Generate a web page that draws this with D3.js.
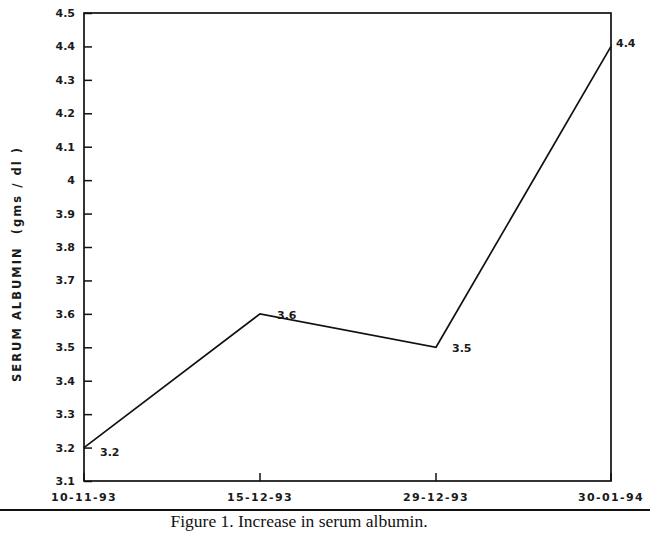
<!DOCTYPE html>
<html>
<head>
<meta charset="utf-8">
<script src="https://cdn.jsdelivr.net/npm/d3@7"></script>
<style>
  body { margin: 0; background: #fff; }
  svg { display: block; }
</style>
</head>
<body>
<div id="chart"></div>
<script>
// chart values
const dates = ['10-11-93', '15-12-93', '29-12-93', '30-01-94']
const albumin = [3.2, 3.6, 3.5, 4.4]
const yTicks = [3.1, 3.2, 3.3, 3.4, 3.5, 3.6, 3.7, 3.8, 3.9, 4, 4.1, 4.2, 4.3, 4.4, 4.5]
const yTitle = 'SERUM ALBUMIN  (gms / dl )'
const caption = 'Figure 1. Increase in serum albumin.'

const dimensions = {
  width: 650,
  height: 542,
  margin: { top: 13, right: 39, bottom: 61, left: 84 }
}
const innerW = dimensions.width - dimensions.margin.left - dimensions.margin.right
const innerH = dimensions.height - dimensions.margin.top - dimensions.margin.bottom

const svg = d3.select('#chart').append('svg')
  .attr('width', dimensions.width)
  .attr('height', dimensions.height)

const bounds = svg.append('g')
  .attr('transform', `translate(${dimensions.margin.left}, ${dimensions.margin.top})`)

// the dates are not evenly spaced in the original plot
const x = d3.scaleOrdinal().domain(dates).range([0, 176, 352, innerW])
const y = d3.scaleLinear().domain([3.1, 4.5]).range([innerH, 0])

const font = 'DejaVu Sans, Verdana, sans-serif'

// frame
bounds.append('rect')
  .attr('width', innerW).attr('height', innerH)
  .attr('fill', 'none')
  .attr('stroke', '#111')
  .attr('stroke-width', 1.7)

// y axis, ticks pointing inward
const yAxis = d3.axisLeft(y).tickValues(yTicks).tickSize(-8).tickPadding(9)
  .tickFormat(d => String(+d.toFixed(1)))
bounds.append('g').call(yAxis)
  .call(g => g.select('.domain').remove())
  .call(g => g.selectAll('line').attr('stroke', '#111').attr('stroke-width', 1.5))
  .call(g => g.selectAll('text')
    .attr('font-family', font).attr('font-size', 11).attr('font-weight', 'bold')
    .attr('fill', '#1a1a1a'))

// x axis, ticks pointing up
const xAxis = d3.axisBottom(x).tickSize(-8).tickPadding(12)
bounds.append('g')
  .attr('transform', `translate(0, ${innerH})`)
  .call(xAxis)
  .call(g => g.select('.domain').remove())
  .call(g => g.selectAll('.tick').attr('transform', d => `translate(${x(d)}, 0)`))
  .call(g => g.selectAll('line').attr('stroke', '#111').attr('stroke-width', 1.5))
  .call(g => g.selectAll('text')
    .attr('font-family', font).attr('font-size', 11).attr('font-weight', 'bold')
    .attr('letter-spacing', 1.4)
    .attr('fill', '#1a1a1a'))

// line
const line = d3.line()
  .x((d, i) => x(dates[i]))
  .y(d => y(d))
bounds.append('path')
  .datum(albumin)
  .attr('d', line)
  .attr('fill', 'none')
  .attr('stroke', '#111')
  .attr('stroke-width', 1.7)

// point labels
const labelOffsets = [[16, 8], [17, 5], [16, 5], [5, 1]]
bounds.selectAll('text.val')
  .data(albumin)
  .join('text')
  .attr('class', 'val')
  .attr('x', (d, i) => x(dates[i]) + labelOffsets[i][0])
  .attr('y', (d, i) => y(d) + labelOffsets[i][1])
  .text(d => d.toFixed(1))
  .attr('font-family', font)
  .attr('font-size', 11)
  .attr('font-weight', 'bold')
  .attr('fill', '#1a1a1a')

// y axis title
svg.append('text')
  .attr('transform', 'translate(21, 265) rotate(-90)')
  .attr('text-anchor', 'middle')
  .attr('font-family', font)
  .attr('font-size', 11.5)
  .attr('font-weight', 'bold')
  .attr('fill', '#1a1a1a')
  .attr('textLength', 234)
  .attr('lengthAdjust', 'spacing')
  .style('white-space', 'pre')
  .text(yTitle)

// rule under the chart
svg.append('line')
  .attr('x1', 0).attr('x2', dimensions.width)
  .attr('y1', 510).attr('y2', 510)
  .attr('stroke', '#111')
  .attr('stroke-width', 2)

// caption
svg.append('text')
  .attr('x', 299)
  .attr('y', 527)
  .attr('text-anchor', 'middle')
  .attr('font-family', 'Liberation Serif, Times New Roman, serif')
  .attr('font-size', 17.5)
  .attr('fill', '#111')
  .text(caption)
</script>
</body>
</html>
